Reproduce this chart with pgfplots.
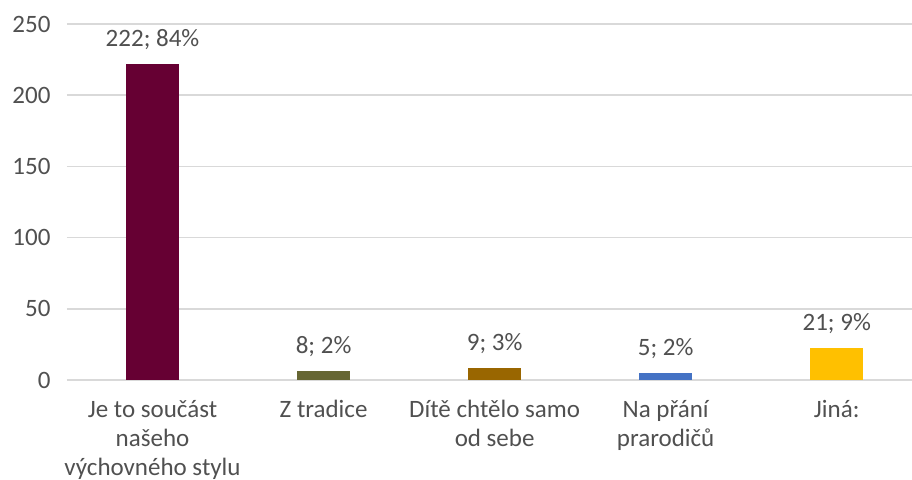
\documentclass[border=0pt]{standalone}
\usepackage{fontspec}
\setmainfont{Carlito}
\usepackage{pgfplots}
\pgfplotsset{compat=1.18}
\definecolor{barA}{HTML}{660033}
\definecolor{barB}{HTML}{666633}
\definecolor{barC}{HTML}{996600}
\definecolor{barD}{HTML}{4472C4}
\definecolor{barE}{HTML}{FFC000}
\definecolor{txtgray}{HTML}{505050}
\definecolor{gridgray}{HTML}{D9D9D9}
\begin{document}
\begin{tikzpicture}
\begin{axis}[
  scale only axis, width=845pt, height=356pt,
  xmin=-0.5, xmax=4.44, ymin=0, ymax=250,
  axis line style={draw=none},
  ytick={0,50,...,250}, ymajorgrids,
  grid style={gridgray, line width=1.4pt},
  xtick={0,1,2,3,4},
  xticklabels={{Je to součást\\našeho\\výchovného stylu}, {Z tradice}, {Dítě chtělo samo\\od sebe}, {Na přání\\prarodičů}, {Jiná:}},
  major tick length=0pt,
  tick label style={font=\fontsize{25}{29}\selectfont, text=txtgray},
  xticklabel style={align=center, yshift=-17pt},
  yticklabel style={xshift=-13pt},
  /pgf/number format/assume math mode=true,
  every node near coord/.append style={font=\fontsize{25}{29}\selectfont, text=txtgray, yshift=11pt},
  bars/.style={ybar, bar width=0.31, bar shift=0pt, draw=none},
  clip=false,
]
\addplot[bars, fill=barA, nodes near coords={222; 84\%}] coordinates {(0,222)};
\addplot[bars, fill=barB, nodes near coords={8; 2\%}] coordinates {(1,6)};
\addplot[bars, fill=barC, nodes near coords={9; 3\%}] coordinates {(2,8.5)};
\addplot[bars, fill=barD, nodes near coords={5; 2\%}] coordinates {(3,5)};
\addplot[bars, fill=barE, nodes near coords={21; 9\%}] coordinates {(4,22.5)};
\end{axis}
\pgfresetboundingbox
\path[use as bounding box] ([shift={(-67pt,-99pt)}]current axis.south west) rectangle ([shift={(0pt,24pt)}]current axis.north east);
\end{tikzpicture}
\end{document}
